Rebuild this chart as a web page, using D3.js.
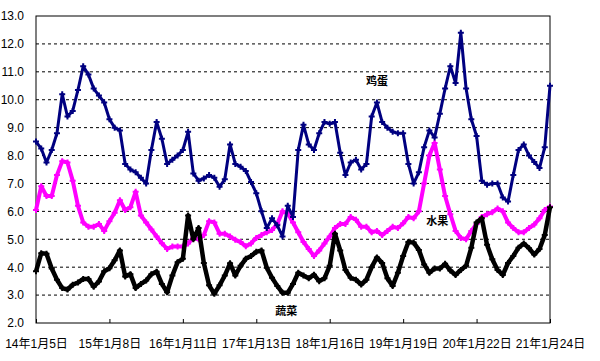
<!DOCTYPE html>
<html>
<head>
<meta charset="utf-8">
<script src="https://cdn.jsdelivr.net/npm/d3@7"></script>
<style>
  body { margin: 0; background: #fff; }
  .axis text { font-family: "Liberation Sans Narrow", "Arial Narrow", "Liberation Sans", "Noto Sans CJK SC", sans-serif; fill: #000; }
  .axis path, .axis line { stroke: #000; }
  .series-label { font-family: "Noto Sans CJK SC", sans-serif; font-weight: bold; font-size: 11px; }
</style>
</head>
<body>
<div id="chart"></div>
<script>
// price series (yuan/kg), sampled evenly across the 7 years
const tickLabels = ["14年1月5日", "15年1月8日", "16年1月11日", "17年1月13日", "18年1月16日", "19年1月19日", "20年1月22日", "21年1月24日"];
const seriesNames = ["鸡蛋", "水果", "蔬菜"];

const egg = [8.5, 8.25, 7.75, 8.2, 8.8, 10.2, 9.4, 9.6, 10.35, 11.2,
  10.9, 10.4, 10.15, 9.9, 9.3, 9.0, 8.9, 7.7, 7.5, 7.4,
  7.2, 7.0, 8.2, 9.2, 8.6, 7.7, 7.85, 8.0, 8.2, 8.85,
  7.36, 7.1, 7.18, 7.3, 7.2, 6.88, 7.15, 8.4, 7.7, 7.6,
  7.45, 7.05, 6.65, 6.0, 5.4, 5.75, 5.5, 5.1, 6.2, 5.8,
  8.2, 9.1, 8.4, 8.2, 8.8, 9.2, 9.14, 9.2, 8.1, 7.3,
  7.75, 7.85, 7.5, 7.7, 9.4, 9.9, 9.2, 9.0, 8.85, 8.8,
  8.8, 7.7, 7.0, 7.4, 8.3, 8.9, 8.65, 9.5, 10.4, 11.2,
  10.6, 12.4, 10.4, 9.3, 8.7, 7.1, 6.95, 7.0, 7.0, 6.5,
  6.35, 7.3, 8.2, 8.4, 8.0, 7.77, 7.55, 8.3, 10.5];

const fruit = [6.05, 6.9, 6.55, 6.55, 7.3, 7.8, 7.75, 7.1, 6.2, 5.6,
  5.45, 5.45, 5.55, 5.3, 5.65, 5.95, 6.4, 6.05, 6.15, 6.7,
  5.85, 5.6, 5.35, 5.1, 4.86, 4.65, 4.74, 4.74, 4.74, 4.85,
  5.05, 5.0, 5.15, 5.65, 5.6, 5.2, 5.2, 5.1, 4.98, 4.9,
  4.75, 4.85, 5.05, 5.15, 5.25, 5.33, 5.55, 6.0, 5.93, 5.6,
  5.25, 4.9, 4.65, 4.4, 4.6, 4.85, 5.1, 5.4, 5.55, 5.55,
  5.8, 5.7, 5.45, 5.45, 5.25, 5.3, 5.15, 5.3, 5.45, 5.4,
  5.57, 5.8, 5.75, 6.0, 7.0, 8.0, 8.45, 7.5, 6.55, 5.9,
  5.3, 5.05, 5.0, 5.3, 5.55, 5.8, 5.9, 5.97, 6.1, 6.0,
  5.6, 5.4, 5.25, 5.25, 5.4, 5.53, 5.75, 6.05, 6.17];

const veg = [3.85, 4.5, 4.48, 3.95, 3.55, 3.25, 3.2, 3.37, 3.45, 3.58,
  3.58, 3.3, 3.49, 3.85, 3.96, 4.25, 4.6, 3.67, 3.75, 3.25,
  3.4, 3.52, 3.75, 3.84, 3.4, 3.1, 3.7, 4.18, 4.3, 5.85,
  5.0, 5.4, 4.15, 3.35, 3.05, 3.35, 3.7, 4.14, 3.7, 4.05,
  4.3, 4.4, 4.55, 4.6, 3.98, 3.62, 3.33, 3.08, 3.08, 3.4,
  3.8, 3.7, 3.6, 3.73, 3.5, 3.6, 4.05, 5.2, 4.6, 3.9,
  3.62, 3.55, 3.38, 3.55, 4.0, 4.35, 4.15, 3.6, 3.33, 3.8,
  4.4, 4.9, 4.88, 4.62, 4.1, 3.8, 3.95, 3.95, 4.12, 3.88,
  3.72, 3.9, 4.05, 4.7, 5.6, 5.75, 4.8, 4.28, 3.9, 3.72,
  4.15, 4.4, 4.7, 4.85, 4.68, 4.45, 4.65, 5.15, 6.15];

const yTicks = [2, 3, 4, 5, 6, 7, 8, 9, 10, 11, 12, 13];

const margin = { top: 16, right: 50, bottom: 38, left: 36 };
const W = 600, H = 361;
const width = W - margin.left - margin.right;
const height = H - margin.top - margin.bottom;

const svg = d3.select("#chart").append("svg")
  .attr("width", W)
  .attr("height", H)
  .append("g")
  .attr("transform", `translate(${margin.left},${margin.top})`);

const n = egg.length;
const x = d3.scaleLinear().domain([0, n - 1]).range([0, width]);
const y = d3.scaleLinear().domain([2, 13]).range([height, 0]);

// dashed gridlines
svg.append("g").selectAll("line")
  .data(yTicks.slice(1, -1))
  .enter().append("line")
  .attr("x1", 0).attr("x2", width)
  .attr("y1", d => y(d)).attr("y2", d => y(d))
  .attr("stroke", "#000")
  .attr("stroke-dasharray", "3,3");

// frame
svg.append("rect")
  .attr("width", width).attr("height", height)
  .attr("fill", "none").attr("stroke", "#000");

const step = (n - 1) / (tickLabels.length - 1);
const xAxis = d3.axisBottom(x)
  .tickValues(tickLabels.map((d, i) => i * step))
  .tickFormat((d, i) => tickLabels[i])
  .tickSizeInner(-4).tickSizeOuter(0)
  .tickPadding(16);

svg.append("g")
  .attr("class", "axis")
  .attr("transform", `translate(0,${height})`)
  .call(xAxis)
  .call(g => g.select(".domain").remove())
  .selectAll("text").attr("font-size", 12);

const yAxis = d3.axisLeft(y)
  .tickValues(yTicks)
  .tickFormat(d3.format(".1f"))
  .tickSize(0)
  .tickPadding(12);

svg.append("g")
  .attr("class", "axis")
  .call(yAxis)
  .call(g => g.select(".domain").remove())
  .selectAll("text").attr("font-size", 12);

const line = d3.line()
  .x((d, i) => x(i))
  .y(d => y(d));

const series = [
  { name: seriesNames[1], values: fruit, color: "#ff00ff", w: 4, lx: 76.5, ly: 5.62 },
  { name: seriesNames[0], values: egg, color: "#000080", w: 3, lx: 65, ly: 10.62 },
  { name: seriesNames[2], values: veg, color: "#000000", w: 4.5, lx: 47.7, ly: 2.4 }
];

series.forEach(s => {
  svg.append("path")
    .datum(s.values)
    .attr("fill", "none")
    .attr("stroke", s.color)
    .attr("stroke-width", s.w)
    .attr("stroke-linejoin", "round")
    .attr("d", line);

  svg.append("g").selectAll("path")
    .data(s.values)
    .enter().append("path")
    .attr("transform", (d, i) => `translate(${x(i)},${y(d)})`)
    .attr("d", d3.symbol(d3.symbolCross, 20))
    .attr("fill", s.color);

  svg.append("text")
    .attr("class", "series-label")
    .attr("x", x(s.lx))
    .attr("y", y(s.ly))
    .attr("text-anchor", "middle")
    .attr("dominant-baseline", "middle")
    .text(s.name);
});
</script>
</body>
</html>
